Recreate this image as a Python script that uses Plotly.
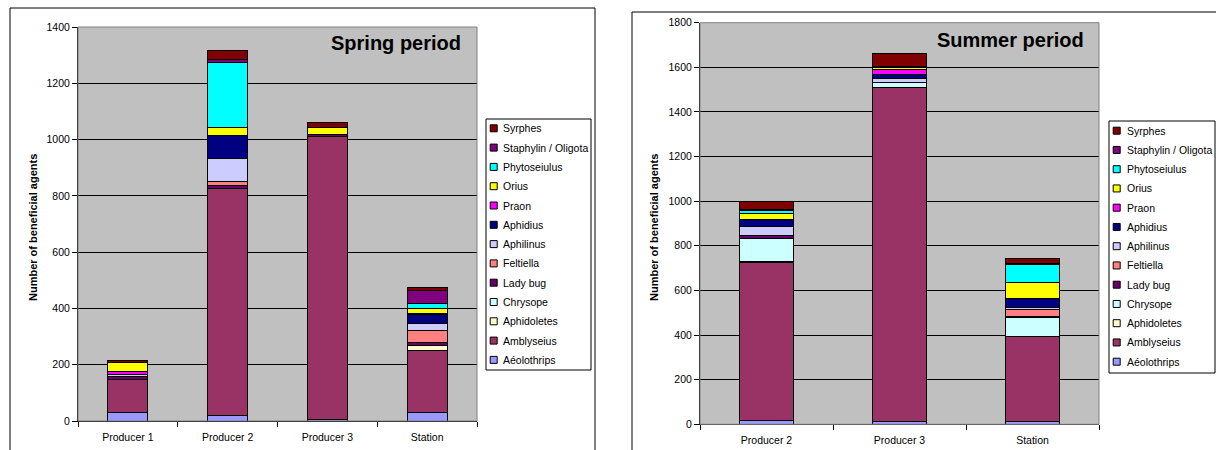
import plotly.graph_objects as go

# ---- data -------------------------------------------------------------
species = [
    "Aéolothrips", "Amblyseius", "Aphidoletes", "Chrysope", "Lady bug",
    "Feltiella", "Aphilinus", "Aphidius", "Praon", "Orius",
    "Phytoseiulus", "Staphylin / Oligota", "Syrphes",
]
colors = [
    "#9999FF", "#993366", "#FFFFCC", "#CCFFFF", "#660066",
    "#FF8080", "#CCCCFF", "#000080", "#FF00FF", "#FFFF00",
    "#00FFFF", "#800080", "#800000",
]

spring_sites = ["Producer 1", "Producer 2", "Producer 3", "Station"]
spring_aeolothrips = [29, 18, 5, 30]
spring_amblyseius = [119, 809, 1005, 219]
spring_aphidoletes = [0, 0, 0, 18]
spring_chrysope = [0, 0, 0, 0]
spring_ladybug = [9, 10, 7, 11]
spring_feltiella = [0, 14, 0, 43]
spring_aphilinus = [8, 82, 0, 24]
spring_aphidius = [0, 83, 0, 32]
spring_praon = [10, 0, 0, 5]
spring_orius = [32, 26, 25, 16]
spring_phytoseiulus = [0, 231, 0, 21]
spring_staphylin = [0, 10, 0, 45]
spring_syrphes = [9, 33, 19, 12]

summer_sites = ["Producer 2", "Producer 3", "Station"]
summer_aeolothrips = [16, 12, 13]
summer_amblyseius = [708, 1498, 381]
summer_aphidoletes = [4, 0, 0]
summer_chrysope = [104, 24, 84]
summer_ladybug = [14, 0, 6]
summer_feltiella = [0, 0, 32]
summer_aphilinus = [42, 17, 6]
summer_aphidius = [30, 16, 40]
summer_praon = [0, 24, 0]
summer_orius = [28, 8, 74]
summer_phytoseiulus = [12, 0, 81]
summer_staphylin = [4, 4, 4]
summer_syrphes = [38, 57, 23]

spring = [
    spring_aeolothrips, spring_amblyseius, spring_aphidoletes, spring_chrysope,
    spring_ladybug, spring_feltiella, spring_aphilinus, spring_aphidius,
    spring_praon, spring_orius, spring_phytoseiulus, spring_staphylin,
    spring_syrphes,
]
summer = [
    summer_aeolothrips, summer_amblyseius, summer_aphidoletes, summer_chrysope,
    summer_ladybug, summer_feltiella, summer_aphilinus, summer_aphidius,
    summer_praon, summer_orius, summer_phytoseiulus, summer_staphylin,
    summer_syrphes,
]

# ---- layout helpers (pixel -> paper) ----------------------------------
W, H = 1216, 450
FONT = "Liberation Sans, Arial, sans-serif"


def px(x):
    return x / W


def py(y):
    return 1 - y / H


fig = go.Figure()


def add_bars(sites, series, xa, ya):
    for name, col, vals in zip(species, colors, series):
        fig.add_trace(go.Bar(
            x=sites,
            y=[v if v else None for v in vals],
            name=name,
            marker=dict(color=col, line=dict(color="black", width=1)),
            width=0.4,
            xaxis=xa, yaxis=ya,
            showlegend=False,
        ))


add_bars(spring_sites, spring, "x", "y")
add_bars(summer_sites, summer, "x2", "y2")

shapes = []
annotations = []


def rect(x0, y0, x1, y1, line="black", fill=None, width=1):
    shapes.append(dict(
        type="rect", xref="paper", yref="paper",
        x0=px(x0), x1=px(x1), y0=py(y0), y1=py(y1),
        line=dict(color=line, width=width),
        fillcolor=fill if fill else "rgba(0,0,0,0)",
        layer="above",
    ))


def text(x, y, s, size=10.5, bold=False, anchor="left", angle=0):
    annotations.append(dict(
        xref="paper", yref="paper", x=px(x), y=py(y),
        text=f"<b>{s}</b>" if bold else s,
        showarrow=False, xanchor=anchor, yanchor="middle",
        textangle=angle,
        font=dict(family=FONT, size=size, color="black"),
    ))


def legend(box, first_y, step, sq_x, txt_x):
    x0, y0, x1, y1 = box
    rect(x0, y0, x1, y1, fill="white")
    for i, (name, col) in enumerate(zip(species[::-1], colors[::-1])):
        cy = first_y + step * i
        rect(sq_x - 3.5, cy - 3.5, sq_x + 3.5, cy + 3.5, fill=col)
        text(txt_x, cy, name, size=10.5)


# chart frames (bottom / right edges run past the page)
rect(10, 8, 595, 480)
rect(632, 12, 1250, 480)

# plot-area outlines
rect(78, 27, 477, 421, line="#808080")
rect(700, 22.7, 1099, 424.3, line="#808080")

# legends
legend((486, 119, 591, 370), 128.3, 19.3, 493.7, 501)
legend((1109, 121, 1215, 373), 130.7, 19.25, 1116.7, 1125)

# period titles
text(463, 43, "Spring period", size=20, bold=True, anchor="right")
text(1086, 40, "Summer period", size=20, bold=True, anchor="right")

# y-axis titles
text(32.5, 227.5, "Number of beneficial agents", size=11, bold=True,
     anchor="center", angle=-90)
text(654, 228, "Number of beneficial agents", size=11, bold=True,
     anchor="center", angle=-90)

tickfont = dict(family=FONT, size=10.5, color="black")

xcommon = dict(
    type="category", tickson="boundaries", ticks="outside", ticklen=5,
    tickcolor="black", showline=True, linecolor="black", linewidth=1,
    showgrid=False, tickfont=tickfont, fixedrange=True,
    ticklabelstandoff=6, automargin=False,
)
ycommon = dict(
    dtick=200, ticks="outside", ticklen=5, tickcolor="black",
    showline=True, linecolor="black", linewidth=1,
    showgrid=True, gridcolor="black", gridwidth=1, zeroline=False,
    tickfont=tickfont, fixedrange=True, automargin=False,
)

fig.update_layout(
    width=W, height=H, autosize=False,
    margin=dict(l=0, r=0, t=0, b=0, pad=0, autoexpand=False),
    paper_bgcolor="white", plot_bgcolor="#C0C0C0",
    barmode="stack",
    showlegend=False,
    xaxis=dict(domain=[px(78), px(477)], anchor="y", **xcommon),
    yaxis=dict(domain=[py(421), py(27)], range=[0, 1400], anchor="x", **ycommon),
    xaxis2=dict(domain=[px(700), px(1099)], anchor="y2", **xcommon),
    yaxis2=dict(domain=[py(424.3), py(22.7)], range=[0, 1800], anchor="x2", **ycommon),
    shapes=shapes,
    annotations=annotations,
    font=dict(family=FONT),
)

fig.write_html("out.html")
